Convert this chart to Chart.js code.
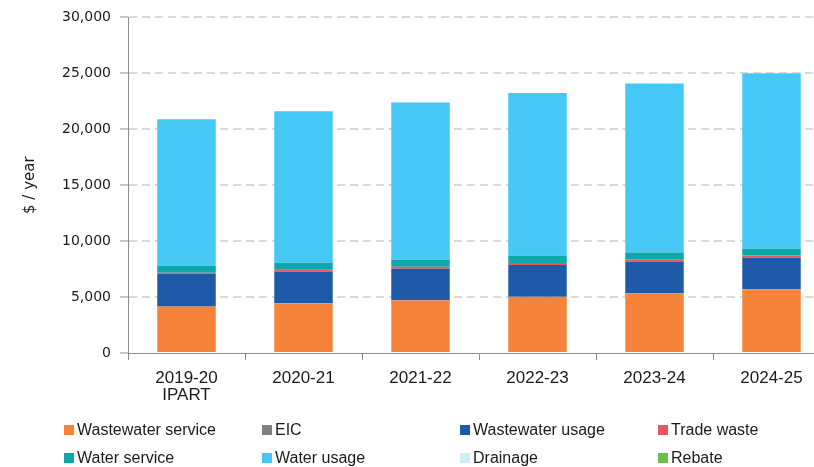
<!DOCTYPE html>
<html>
<head>
<meta charset="utf-8">
<script src="https://cdn.jsdelivr.net/npm/chart.js@4"></script>
<style>
  html, body { margin: 0; padding: 0; background: #ffffff; overflow: hidden; }
  #wrap { position: relative; width: 846px; height: 467px; }
</style>
</head>
<body>
<div id="wrap"><canvas id="c" width="846" height="467"></canvas></div>
<script>
const categories = [["2019-20", "IPART"], "2020-21", "2021-22", "2022-23", "2023-24", "2024-25"];
const wastewaterService = [4130, 4440, 4700, 5000, 5330, 5690];
const eic = [20, 20, 20, 20, 20, 20];
const wastewaterUsage = [2930, 2800, 2810, 2840, 2840, 2800];
const tradeWaste = [100, 180, 180, 180, 180, 200];
const waterService = [610, 620, 620, 650, 620, 600];
const waterUsage = [13110, 13540, 14070, 14560, 15110, 15690];
const drainage = [0, 0, 0, 0, 0, 0];
const rebate = [0, 0, 0, 0, 0, 0];
const yTicks = [0, 5000, 10000, 15000, 20000, 25000, 30000];

const seriesNames = ["Wastewater service", "EIC", "Wastewater usage", "Trade waste",
                     "Water service", "Water usage", "Drainage", "Rebate"];
const seriesData = [wastewaterService, eic, wastewaterUsage, tradeWaste,
                    waterService, waterUsage, drainage, rebate];
const seriesColors = ["#F5843A", "#7F7F7F", "#1F5AA8", "#E05A5E",
                      "#0AA8A8", "#45C8F5", "#CDEFF9", "#6CBF4A"];

const LEGEND_FONT = "16px 'Liberation Sans', Arial, sans-serif";

const gridLegend = {
  id: 'gridLegend',
  afterDraw(chart) {
    const ctx = chart.ctx;
    const colX = [64, 262, 460, 658];
    const rowY = [430, 458];
    ctx.save();
    ctx.font = LEGEND_FONT;
    ctx.textBaseline = 'middle';
    ctx.textAlign = 'left';
    chart.data.datasets.forEach((ds, i) => {
      const x = colX[i % 4];
      const y = rowY[Math.floor(i / 4)];
      ctx.fillStyle = ds.backgroundColor;
      ctx.fillRect(x, y - 5, 10, 10);
      ctx.fillStyle = '#1a1a1a';
      ctx.fillText(ds.label, x + 13, y + 1);
    });
    ctx.restore();
  }
};

new Chart(document.getElementById('c'), {
  type: 'bar',
  data: {
    labels: categories,
    datasets: seriesNames.map((n, i) => ({
      label: n,
      data: seriesData[i],
      backgroundColor: seriesColors[i],
      borderWidth: 0,
      categoryPercentage: 1.0,
      barPercentage: 0.5
    }))
  },
  plugins: [gridLegend],
  options: {
    responsive: false,
    animation: false,
    layout: { padding: { top: 17, right: 16, bottom: 0, left: 0 } },
    plugins: { legend: { display: false }, tooltip: { enabled: false } },
    scales: {
      x: {
        stacked: true,
        afterFit(scale) { scale.height = 114; },
        grid: { drawOnChartArea: false, color: '#8C8C8C', tickLength: 7, lineWidth: 1 },
        border: { color: '#8C8C8C', width: 1 },
        ticks: {
          color: '#1a1a1a',
          padding: 10,
          maxRotation: 0,
          font: { family: "'Liberation Sans', Arial, sans-serif", size: 17, lineHeight: 1.0 }
        }
      },
      y: {
        stacked: true,
        min: 0,
        max: 30000,
        afterFit(scale) { scale.width = 128; },
        afterBuildTicks(scale) { scale.ticks = yTicks.map(v => ({ value: v })); },
        grid: {
          color: ctx => ctx.tick && ctx.tick.value === 0 ? 'rgba(0,0,0,0)' : '#D9D9D9',
          lineWidth: 2,
          tickColor: '#8C8C8C',
          tickWidth: 1,
          tickLength: 8
        },
        border: { color: '#8C8C8C', width: 1, dash: [8, 5] },
        title: {
          display: true,
          text: '$ / year',
          color: '#1a1a1a',
          font: { family: "'DejaVu Sans', Verdana, sans-serif", size: 15 },
          padding: { top: 21, bottom: 0 }
        },
        ticks: {
          color: '#1a1a1a',
          padding: 9,
          font: { family: "'DejaVu Sans', Verdana, sans-serif", size: 14 },
          callback: v => v.toLocaleString('en-US')
        }
      }
    }
  }
});
</script>
</body>
</html>
